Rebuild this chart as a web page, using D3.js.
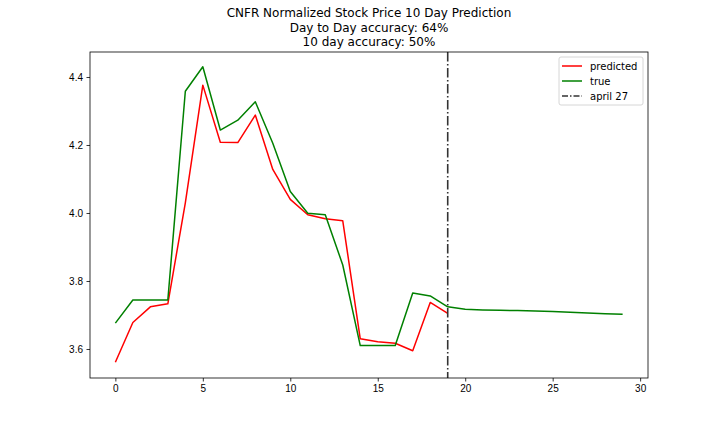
<!DOCTYPE html>
<html>
<head>
<meta charset="utf-8">
<script src="https://cdn.jsdelivr.net/npm/d3@7"></script>
<style>
  body { margin: 0; background: #fff; }
  svg { font-family: "DejaVu Sans", sans-serif; }
  .tick text { font-size: 10px; fill: #000; }
</style>
</head>
<body>
<svg id="canvas" width="720" height="432"></svg>
<script>
// predicted prices for days 0..19
const predicted = [3.561, 3.678, 3.724, 3.733, 4.030, 4.376, 4.208, 4.207, 4.288, 4.128,
                   4.040, 3.995, 3.983, 3.977, 3.630, 3.621, 3.617, 3.595, 3.737, 3.705];
// true prices for days 0..29
const actual = [3.676, 3.744, 3.744, 3.744, 4.358, 4.430, 4.244, 4.273, 4.327, 4.205,
                4.063, 3.999, 3.995, 3.847, 3.610, 3.610, 3.610, 3.765, 3.756, 3.724,
                3.717, 3.715, 3.714, 3.713, 3.712, 3.710, 3.708, 3.706, 3.704, 3.702];
const markerDay = 19;
const xTicks = [0, 5, 10, 15, 20, 25, 30];
const yTicks = [3.6, 3.8, 4.0, 4.2, 4.4];
const titleLines = ["CNFR Normalized Stock Price 10 Day Prediction",
                    "Day to Day accuracy: 64%",
                    "10 day accuracy: 50%"];
const legendItems = [
    {label: "predicted", color: "#ff0000", dash: null},
    {label: "true", color: "#008000", dash: null},
    {label: "april 27", color: "#333333", dash: "6,2,1.5,2"}
];

const svg = d3.select("#canvas");
const plotLeft = 90, plotRight = 648, plotTop = 52, plotBottom = 378;

const x = d3.scaleLinear().domain([-1.45, 30.45]).range([plotLeft, plotRight]);
const y = d3.scaleLinear().domain([3.5147, 4.4735]).range([plotBottom, plotTop]);

/**
 * Draws one series as a polyline starting at day 0.
 */
function drawSeries(values, color) {
    svg.append("path")
        .datum(values)
        .attr("fill", "none")
        .attr("stroke", color)
        .attr("stroke-width", 1.5)
        .attr("stroke-linejoin", "round")
        .attr("d", d3.line().x((d, i) => x(i)).y(d => y(d)));
}

drawSeries(predicted, "#ff0000");
drawSeries(actual, "#008000");

svg.append("line")
    .attr("x1", x(markerDay)).attr("x2", x(markerDay))
    .attr("y1", plotTop).attr("y2", plotBottom)
    .attr("stroke", "#333333")
    .attr("stroke-width", 1.6)
    .attr("stroke-dasharray", "9.6,2.4,1.6,2.4");

// axes
const xAxis = svg.append("g")
    .attr("transform", `translate(0,${plotBottom})`)
    .call(d3.axisBottom(x).tickValues(xTicks).tickSize(3.5).tickPadding(3.5).tickFormat(d3.format("d")));
const yAxis = svg.append("g")
    .attr("transform", `translate(${plotLeft},0)`)
    .call(d3.axisLeft(y).tickValues(yTicks).tickSize(3.5).tickPadding(3.5).tickFormat(d3.format(".1f")));
[xAxis, yAxis].forEach(a => {
    a.select(".domain").remove();
    a.selectAll(".tick line").attr("stroke", "#000").attr("stroke-width", 0.8);
});

svg.append("rect")
    .attr("x", plotLeft).attr("y", plotTop)
    .attr("width", plotRight - plotLeft).attr("height", plotBottom - plotTop)
    .attr("fill", "none")
    .attr("stroke", "#000")
    .attr("stroke-width", 0.8);

// title
svg.append("g").selectAll("text")
    .data(titleLines)
    .enter()
    .append("text")
    .attr("x", (plotLeft + plotRight) / 2)
    .attr("y", (d, i) => 17.3 + i * 14.4)
    .attr("text-anchor", "middle")
    .attr("font-size", 12)
    .attr("fill", "#000")
    .text(d => d);

// legend
const legend = svg.append("g").attr("transform", "translate(559,57)");
legend.append("rect")
    .attr("width", 84).attr("height", 48)
    .attr("rx", 2)
    .attr("fill", "#fff")
    .attr("fill-opacity", 0.8)
    .attr("stroke", "#cccccc")
    .attr("stroke-width", 0.8);
const rows = legend.selectAll(".row")
    .data(legendItems)
    .enter()
    .append("g")
    .attr("class", "row")
    .attr("transform", (d, i) => `translate(0,${9 + i * 15})`);
rows.append("line")
    .attr("x1", 3).attr("x2", 23)
    .attr("stroke", d => d.color)
    .attr("stroke-width", 1.5)
    .attr("stroke-dasharray", d => d.dash);
rows.append("text")
    .attr("x", 31)
    .attr("y", 3.5)
    .attr("font-size", 10)
    .attr("fill", "#000")
    .text(d => d.label);
</script>
</body>
</html>
